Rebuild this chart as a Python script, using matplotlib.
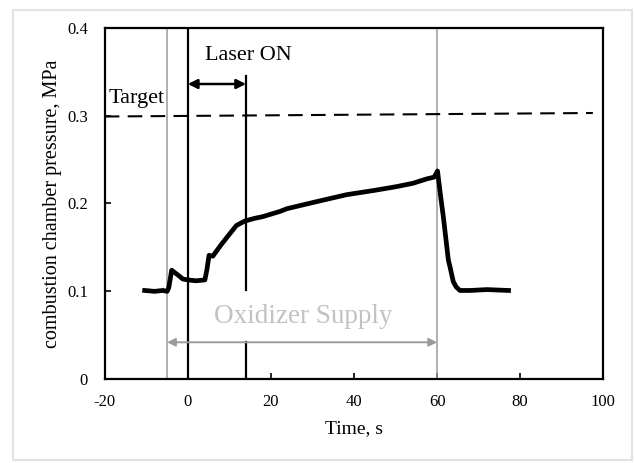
import numpy as np
import matplotlib.pyplot as plt
from matplotlib.patches import Rectangle

plt.rcParams['font.family'] = ['Liberation Serif', 'DejaVu Serif']
plt.rcParams['axes.unicode_minus'] = False

# pressure trace (time s, pressure MPa)
t = [-10.4, -8.0, -6.0, -5.0, -4.6, -3.9, -2.5, -1.2, 0.0, 2.0, 4.1,
     4.6, 5.1, 6.0, 8.0, 10.0, 11.7, 13.7, 16.0, 18.0, 22.2, 23.8,
     30.0, 38.2, 45.0, 50.0, 54.2, 57.5, 59.3, 60.1, 60.8, 61.5,
     62.7, 63.1, 63.9, 64.6, 65.5, 68.0, 72.0, 77.2]
p = [0.101, 0.100, 0.101, 0.100, 0.104, 0.124, 0.119, 0.114, 0.113,
     0.112, 0.113, 0.125, 0.141, 0.140, 0.153, 0.165, 0.175, 0.180,
     0.183, 0.185, 0.191, 0.194, 0.201, 0.210, 0.215, 0.219, 0.223,
     0.228, 0.230, 0.237, 0.210, 0.185, 0.136, 0.128, 0.111, 0.105,
     0.101, 0.101, 0.102, 0.101]

target_t = [-20, 97.5]
target_p = [0.299, 0.303]

supply_start, laser_start, laser_end, supply_end = -5, 0, 14, 60

fig = plt.figure(figsize=(6.35, 4.63), dpi=100)
fig.patches.append(Rectangle((0.02, 0.006), 0.975, 0.972, transform=fig.transFigure,
                             fill=False, edgecolor='#e2e2e2', lw=1.5))
ax = fig.add_axes([0.165, 0.181, 0.785, 0.759])

# event markers
ax.axvline(supply_start, color='#9a9a9a', lw=1.1)
ax.axvline(supply_end, color='#9a9a9a', lw=1.1)
ax.axvline(laser_start, color='black', lw=1.6)
ax.plot([laser_end, laser_end], [0, 0.042], color='black', lw=1.6)
ax.plot([laser_end, laser_end], [0.101, 0.345], color='black', lw=1.6)

ax.plot(target_t, target_p, color='black', lw=1.5, dashes=(7, 4))
ax.plot(t, p, color='black', lw=3.4, solid_joinstyle='round')

ax.annotate('', xy=(laser_start, 0.336), xytext=(laser_end, 0.336),
            arrowprops=dict(arrowstyle='<|-|>', color='black', lw=1.8,
                            mutation_scale=14, shrinkA=0, shrinkB=0))
ax.annotate('', xy=(supply_start, 0.042), xytext=(supply_end, 0.042),
            arrowprops=dict(arrowstyle='<|-|>', color='#9a9a9a', lw=1.4,
                            mutation_scale=12, shrinkA=0, shrinkB=0))

ax.text(-12.3, 0.32, 'Target', ha='center', va='center', fontsize=16)
ax.text(14.5, 0.369, 'Laser ON', ha='center', va='center', fontsize=16)
ax.text(27.7, 0.071, 'Oxidizer Supply', ha='center', va='center',
        fontsize=19.5, color='#c2c2c2')

ax.set_xlim(-20, 100)
ax.set_ylim(0, 0.4)
ax.set_xticks([-20, 0, 20, 40, 60, 80, 100])
ax.set_yticks([0, 0.1, 0.2, 0.3, 0.4])
ax.set_yticklabels(['0', '0.1', '0.2', '0.3', '0.4'])
ax.tick_params(direction='in', length=4, width=1.2, labelsize=12, pad=11)
ax.tick_params(axis='y', pad=12)
for s in ax.spines.values():
    s.set_linewidth(1.6)

ax.set_xlabel('Time, s', fontsize=14, labelpad=7)
ax.set_ylabel('combustion chamber pressure, MPa', fontsize=14.5, labelpad=4)

fig.savefig('out.png', dpi=100)
